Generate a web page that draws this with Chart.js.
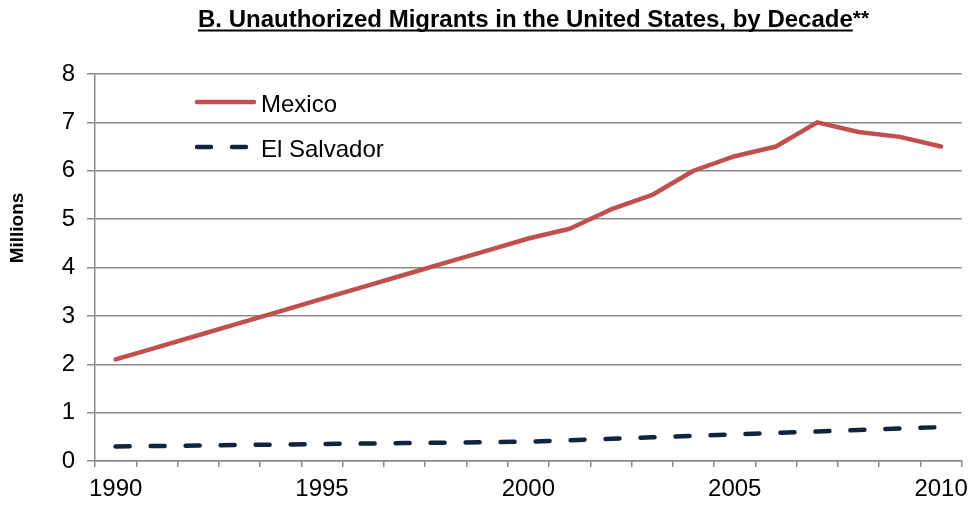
<!DOCTYPE html>
<html>
<head>
<meta charset="utf-8">
<title>Unauthorized Migrants in the United States</title>
<script src="https://cdn.jsdelivr.net/npm/chart.js@4"></script>
<style>
    html, body { margin: 0; padding: 0; background: #ffffff; }
    #chart { display: block; }
</style>
</head>
<body>
<canvas id="chart" width="976" height="506"></canvas>
<script>
// Years on the horizontal axis
const years = ['1990', '1991', '1992', '1993', '1994', '1995', '1996', '1997', '1998', '1999', '2000',
    '2001', '2002', '2003', '2004', '2005', '2006', '2007', '2008', '2009', '2010'];

// Only these years get a printed label
const yearLabels = ['1990', '1995', '2000', '2005', '2010'];

// Unauthorized migrants, millions
const mexico = [2.1, 2.35, 2.6, 2.85, 3.1, 3.35, 3.6, 3.85, 4.1, 4.35, 4.6,
    4.8, 5.2, 5.5, 6.0, 6.3, 6.5, 7.0, 6.8, 6.7, 6.5];
const elSalvador = [0.30, 0.31, 0.32, 0.33, 0.34, 0.35, 0.36, 0.37, 0.38, 0.39, 0.40,
    0.43, 0.46, 0.49, 0.52, 0.55, 0.58, 0.61, 0.64, 0.67, 0.70];

const titleText = 'B. Unauthorized Migrants in the United States, by Decade';
const titleSuffix = '**';
const yTitle = 'Millions';

const gridColor = '#8a8a8a';
const fontFamily = '"Liberation Sans", Arial, sans-serif';

// Draws the underlined title, the rotated axis title and the legend inside the plot
const decorations = {
    id: 'decorations',
    afterDraw(chart) {
        const ctx = chart.ctx;
        ctx.save();

        // Title, underlined except for the trailing asterisks
        ctx.fillStyle = '#000000';
        ctx.font = 'bold 24px ' + fontFamily;
        ctx.textAlign = 'left';
        ctx.textBaseline = 'alphabetic';
        const titleX = 198;
        const titleW = Math.min(ctx.measureText(titleText).width, 657);
        ctx.fillText(titleText, titleX, 27, 657);
        ctx.fillRect(titleX, 29.5, titleW, 2);
        ctx.font = 'bold 21px ' + fontFamily;
        ctx.fillText(titleSuffix, titleX + titleW, 25);

        // Y axis title
        ctx.save();
        ctx.translate(18, 228);
        ctx.rotate(-Math.PI / 2);
        ctx.font = 'bold 19px ' + fontFamily;
        ctx.textAlign = 'center';
        ctx.textBaseline = 'middle';
        ctx.fillText(yTitle, 0, 0);
        ctx.restore();

        // Legend entries, styled from the datasets
        const rows = [102, 147];
        chart.data.datasets.forEach((ds, i) => {
            const y = rows[i];
            ctx.beginPath();
            ctx.strokeStyle = ds.borderColor;
            ctx.lineWidth = ds.borderWidth;
            ctx.lineCap = 'round';
            ctx.setLineDash(ds.borderDash || []);
            ctx.moveTo(197, y);
            ctx.lineTo(254, y);
            ctx.stroke();
            ctx.setLineDash([]);

            ctx.fillStyle = '#000000';
            ctx.font = '24px ' + fontFamily;
            ctx.textAlign = 'left';
            ctx.textBaseline = 'alphabetic';
            ctx.fillText(ds.label, 261, y + 10);
        });

        ctx.restore();
    }
};

function renderChart() {
    const ctx = document.getElementById('chart').getContext('2d');

    new Chart(ctx, {
        type: 'line',
        data: {
            labels: years,
            datasets: [{
                label: 'Mexico',
                data: mexico,
                borderColor: '#C0504D',
                borderWidth: 4.5,
                borderCapStyle: 'round',
                borderJoinStyle: 'round',
                pointRadius: 0,
                fill: false,
                tension: 0
            }, {
                label: 'El Salvador',
                data: elSalvador,
                borderColor: '#10243E',
                borderWidth: 4.5,
                borderDash: [14, 21],
                borderCapStyle: 'round',
                pointRadius: 0,
                fill: false,
                tension: 0
            }]
        },
        options: {
            responsive: false,
            animation: false,
            devicePixelRatio: 1,
            layout: {
                padding: { top: 74, right: 9, left: 0, bottom: 0 }
            },
            plugins: {
                legend: { display: false },
                title: { display: false },
                tooltip: { enabled: false }
            },
            scales: {
                x: {
                    type: 'category',
                    offset: true,
                    afterFit: (scale) => { scale.height = 45; },
                    grid: {
                        offset: true,
                        drawOnChartArea: false,
                        drawTicks: true,
                        tickLength: 6,
                        color: gridColor,
                        lineWidth: 1.5
                    },
                    border: { color: gridColor, width: 1.5 },
                    ticks: {
                        autoSkip: false,
                        maxRotation: 0,
                        padding: 8,
                        color: '#000000',
                        font: { family: fontFamily, size: 24 },
                        callback: function (value) {
                            const label = this.getLabelForValue(value);
                            return yearLabels.includes(label) ? label : '';
                        }
                    }
                },
                y: {
                    min: 0,
                    max: 8,
                    afterFit: (scale) => { scale.width = 95; },
                    grid: {
                        color: gridColor,
                        lineWidth: 1.5,
                        tickLength: 8
                    },
                    border: { color: gridColor, width: 1.5 },
                    ticks: {
                        stepSize: 1,
                        padding: 12,
                        color: '#000000',
                        font: { family: fontFamily, size: 24 }
                    }
                }
            }
        },
        plugins: [decorations]
    });
}

document.addEventListener('DOMContentLoaded', renderChart);
</script>
</body>
</html>
